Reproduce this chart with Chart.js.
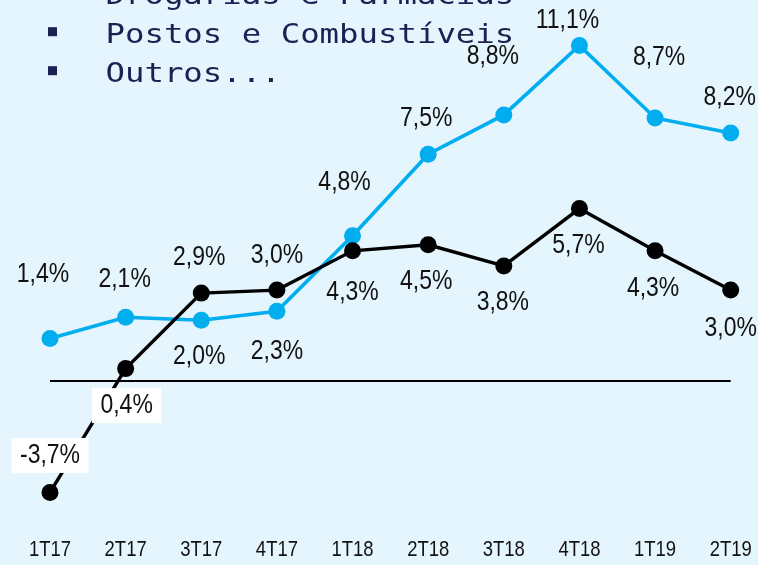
<!DOCTYPE html>
<html><head><meta charset="utf-8">
<script src="https://cdn.jsdelivr.net/npm/chart.js@4.4.1/dist/chart.umd.min.js"></script>
<style>html,body{margin:0;padding:0;background:#E4F5FD;overflow:hidden}canvas{display:block}</style>
</head><body>
<canvas id="c" width="758" height="565"></canvas>
<script>
// ---- data ----
const categories = ['1T17','2T17','3T17','4T17','1T18','2T18','3T18','4T18','1T19','2T19'];
const blueSeries  = [1.4, 2.1, 2.0, 2.3, 4.8, 7.5, 8.8, 11.1, 8.7, 8.2];
const blackSeries = [-3.7, 0.4, 2.9, 3.0, 4.3, 4.5, 3.8, 5.7, 4.3, 3.0];
const legendLines = ['Drogarias e Farmácias', 'Postos e Combustíveis', 'Outros...'];

// ---- label placement (pixel offsets from each point) ----
const blueLabelOffsets  = [[-7,-64],[-1,-38],[-2,36],[0,40],[-8,-53],[-2,-36],[-11,-59],[-12,-25],[4,-61],[-1,-36]];
const blackLabelOffsets = [[0,-37],[1,37],[-2,-36],[0,-35],[0,41],[-2,36],[-1,36],[-1,37],[-2,37],[0,38]];
const blackLabelBoxed   = [true,true,false,false,false,false,false,false,false,false];

const BG = '#E4F5FD';
const BLUE = '#00AEEF';
const NAVY = '#1D2052';
const SANS = '"Liberation Sans", Arial, sans-serif';
const SQUEEZE = 0.82; // narrow face emulation

const fmt = v => v.toFixed(1).replace('.', ',') + '%';

function scaledText(ctx, text, x, y, sx) {
  ctx.save();
  ctx.translate(x, y);
  ctx.scale(sx, 1);
  ctx.fillText(text, 0, 0);
  ctx.restore();
}

const bgPlugin = {
  id: 'bg',
  beforeDraw(chart) {
    const ctx = chart.ctx;
    ctx.save();
    ctx.fillStyle = BG;
    ctx.fillRect(0, 0, chart.width, chart.height);
    ctx.restore();
  }
};

const xLabelPlugin = {
  id: 'xLabels',
  afterDraw(chart) {
    const ctx = chart.ctx;
    const xs = chart.scales.x;
    ctx.save();
    ctx.font = '22.5px ' + SANS;
    ctx.textAlign = 'center';
    ctx.textBaseline = 'middle';
    ctx.fillStyle = '#111111';
    categories.forEach((c, i) => {
      scaledText(ctx, c, xs.getPixelForTick(i), chart.chartArea.bottom + 33.4, SQUEEZE);
    });
    ctx.restore();
  }
};

const labelPlugin = {
  id: 'pointLabels',
  afterDatasetsDraw(chart) {
    const ctx = chart.ctx;
    ctx.save();
    ctx.font = '28px ' + SANS;
    ctx.textAlign = 'center';
    ctx.textBaseline = 'middle';
    const sets = [
      {idx: 1, values: blueSeries, offs: blueLabelOffsets, boxed: null},
      {idx: 0, values: blackSeries, offs: blackLabelOffsets, boxed: blackLabelBoxed}
    ];
    sets.forEach(s => {
      const meta = chart.getDatasetMeta(s.idx);
      meta.data.forEach((pt, i) => {
        const x = pt.x + s.offs[i][0];
        const y = pt.y + s.offs[i][1];
        const t = fmt(s.values[i]);
        if (s.boxed && s.boxed[i]) {
          const w = ctx.measureText(t).width * SQUEEZE;
          ctx.fillStyle = '#FFFFFF';
          ctx.fillRect(x - w / 2 - 8.5, y - 17.5, w + 17, 35);
        }
        ctx.fillStyle = '#111111';
        scaledText(ctx, t, x, y, SQUEEZE);
      });
    });
    ctx.restore();
  }
};

const legendTextPlugin = {
  id: 'legendText',
  afterDraw(chart) {
    const ctx = chart.ctx;
    ctx.save();
    ctx.font = '26.5px "DejaVu Sans Mono", monospace';
    ctx.textAlign = 'left';
    ctx.textBaseline = 'alphabetic';
    ctx.fillStyle = NAVY;
    legendLines.forEach((line, i) => {
      const base = 3.7 + i * 39;
      ctx.fillRect(48, base - 15.5, 9, 9);
      scaledText(ctx, line, 105.5, base, 1.22);
    });
    ctx.restore();
  }
};

new Chart(document.getElementById('c'), {
  type: 'line',
  data: {
    labels: categories,
    datasets: [
      {
        label: 'Série preta',
        data: blackSeries,
        borderColor: '#000000',
        backgroundColor: '#000000',
        borderWidth: 3.4,
        pointRadius: 8.5,
        pointHoverRadius: 8.5,
        pointBorderWidth: 0,
        tension: 0,
        clip: false
      },
      {
        label: 'Série azul',
        data: blueSeries,
        borderColor: BLUE,
        backgroundColor: BLUE,
        borderWidth: 3.6,
        pointRadius: 8.5,
        pointHoverRadius: 8.5,
        pointBorderWidth: 0,
        tension: 0,
        clip: false
      }
    ]
  },
  options: {
    responsive: false,
    animation: false,
    events: [],
    layout: { autoPadding: false, padding: { left: 50, right: 27.3, top: 3.2, bottom: 0 } },
    plugins: { legend: { display: false }, tooltip: { enabled: false }, title: { display: false } },
    scales: {
      x: {
        type: 'category',
        offset: false,
        grid: { display: false, drawTicks: false },
        border: { display: false },
        ticks: { display: false },
        afterFit: s => { s.height = 48.4; }
      },
      y: {
        min: -4.5,
        max: 12.5,
        afterBuildTicks: s => { s.ticks = [{ value: 0 }]; },
        grid: {
          drawTicks: false,
          lineWidth: 2,
          color: '#000000'
        },
        border: { display: false },
        ticks: { display: false }
      }
    }
  },
  plugins: [bgPlugin, labelPlugin, legendTextPlugin, xLabelPlugin]
});
</script>
</body></html>
